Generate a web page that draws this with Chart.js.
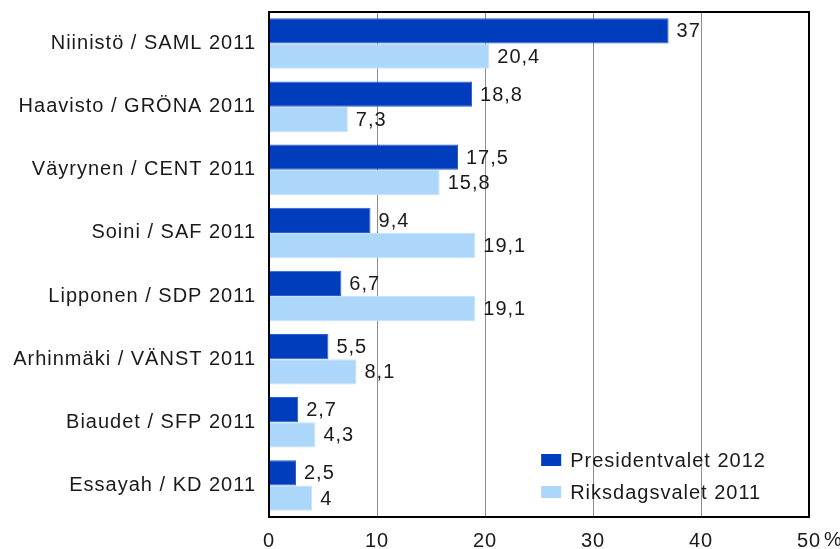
<!DOCTYPE html>
<html>
<head>
<meta charset="utf-8">
<script src="https://cdn.jsdelivr.net/npm/chart.js@4/dist/chart.umd.min.js"></script>
<style>
  html, body { margin: 0; padding: 0; background: #fff; }
  #wrap { width: 840px; height: 549px; position: relative; }
</style>
</head>
<body>
<div id="wrap"><canvas id="c" width="840" height="549"></canvas></div>
<script>
const categories = [
  "Niinistö / SAML 2011",
  "Haavisto / GRÖNA 2011",
  "Väyrynen / CENT 2011",
  "Soini / SAF 2011",
  "Lipponen / SDP 2011",
  "Arhinmäki / VÄNST 2011",
  "Biaudet / SFP 2011",
  "Essayah / KD 2011"
];
const presidentvalet2012 = [37, 18.8, 17.5, 9.4, 6.7, 5.5, 2.7, 2.5];
const riksdagsvalet2011 = [20.4, 7.3, 15.8, 19.1, 19.1, 8.1, 4.3, 4];
const seriesNames = ["Presidentvalet 2012", "Riksdagsvalet 2011"];
const xTicks = [0, 10, 20, 30, 40, 50];
const xUnit = "%";

const FONT = "'Liberation Sans', Arial, sans-serif";
const FS = 20;
const TXT = "#1a1a1a";
const SPACING = "1px";

const fmt = v => String(v).replace(".", ",");

const spacingPlugin = {
  id: "spacing",
  beforeLayout(chart) { chart.ctx.letterSpacing = SPACING; },
  beforeDraw(chart) { chart.ctx.letterSpacing = SPACING; }
};

const frameAndLabels = {
  id: "frameAndLabels",
  afterDatasetsDraw(chart) {
    const ctx = chart.ctx;
    ctx.save();
    ctx.letterSpacing = SPACING;
    ctx.font = FS + "px " + FONT;
    ctx.fillStyle = TXT;
    ctx.textAlign = "left";
    ctx.textBaseline = "middle";
    chart.data.datasets.forEach((ds, di) => {
      const meta = chart.getDatasetMeta(di);
      meta.data.forEach((bar, i) => {
        ctx.fillText(fmt(ds.data[i]), bar.x + 8, bar.y + 1);
      });
    });
    const a = chart.chartArea;
    ctx.strokeStyle = "#000";
    ctx.lineWidth = 2;
    ctx.strokeRect(a.left, a.top, a.right - a.left, a.bottom - a.top);
    // unit after the last x tick label
    const xs = chart.scales.x;
    const lastV = xTicks[xTicks.length - 1];
    const lastX = xs.getPixelForValue(lastV);
    const halfW = ctx.measureText(String(lastV)).width / 2;
    ctx.fillText(xUnit, lastX + halfW + 3, a.bottom + 12 + FS / 2 + 1);
    // legend inside the plot area, lower right
    const lx = xs.getPixelForValue(25.2);
    const startY = a.bottom - 57;
    chart.data.datasets.forEach((ds, k) => {
      const y = startY + k * 32;
      ctx.fillStyle = ds.backgroundColor;
      ctx.fillRect(lx, y - 6, 20, 12);
      ctx.fillStyle = TXT;
      ctx.fillText(ds.label, lx + 29, y + 1);
    });
    ctx.restore();
  }
};

new Chart(document.getElementById("c"), {
  type: "bar",
  data: {
    labels: categories,
    datasets: [
      { label: seriesNames[0], data: presidentvalet2012, backgroundColor: "#003dbd", borderColor: "#2a5fd0", borderWidth: 1 },
      { label: seriesNames[1], data: riksdagsvalet2011, backgroundColor: "#acd6fa", borderColor: "#c4e2fc", borderWidth: 1 }
    ]
  },
  options: {
    indexAxis: "y",
    responsive: false,
    animation: false,
    devicePixelRatio: 1,
    layout: { padding: { top: 12, right: 31, left: 0, bottom: 0 } },
    datasets: { bar: { categoryPercentage: 0.8, barPercentage: 1.0 } },
    plugins: { legend: { display: false }, tooltip: { enabled: false } },
    scales: {
      x: {
        min: xTicks[0], max: xTicks[xTicks.length - 1],
        afterBuildTicks: s => { s.ticks = xTicks.map(v => ({ value: v })); },
        afterFit: s => { s.height = 32; s.paddingLeft = 0; s.paddingRight = 0; },
        ticks: {
          color: TXT, font: { family: FONT, size: FS }, padding: 12,
          callback: v => String(v)
        },
        grid: { color: "#8c8c8c", lineWidth: 1, drawTicks: false },
        border: { display: false }
      },
      y: {
        afterFit: s => { s.width = 269; s.paddingTop = 0; s.paddingBottom = 0; },
        ticks: { color: TXT, font: { family: FONT, size: FS }, padding: 13 },
        grid: { display: false, drawTicks: false },
        border: { display: false }
      }
    }
  },
  plugins: [spacingPlugin, frameAndLabels]
});
</script>
</body>
</html>
